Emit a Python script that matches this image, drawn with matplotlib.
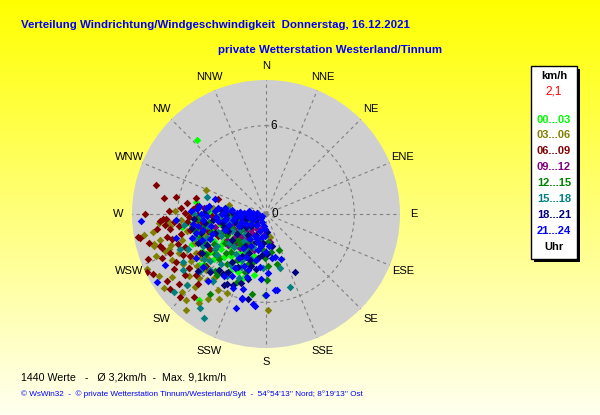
import numpy as np
import matplotlib.pyplot as plt
from matplotlib import font_manager
from matplotlib.patches import Rectangle

# compass + scale
directions = ['N', 'NNE', 'NE', 'ENE', 'E', 'ESE', 'SE', 'SSE',
              'S', 'SSW', 'SW', 'WSW', 'W', 'WNW', 'NW', 'NNW']
max_speed = 9.1
ring_speed = 6

hour_labels = ['00...03', '03...06', '06...09', '09...12',
               '12...15', '15...18', '18...21', '21...24']
hour_colors = ['#00FF00', '#808000', '#800000', '#800080',
               '#008000', '#008080', '#000080', '#0000FF']

# (wind direction deg, speed km/h), per 3 hour block
pts_00_03 = [(317, 6.9), (280, 4.8), (261, 5.8), (218, 7.4), (233, 5.7), (231, 5.4), (191, 4.2),
             (265, 3.5), (258, 3.2), (252, 2.9), (248, 3.6), (243, 4.0), (238, 3.4), (234, 2.8),
             (228, 3.3), (224, 4.1), (220, 3.7), (246, 2.2), (240, 1.9), (255, 1.6), (262, 2.4),
             (250, 4.4), (236, 4.6), (226, 2.5), (214, 3.0), (208, 3.6), (270, 2.8), (230, 1.6),
             (244, 1.2), (257, 4.2), (212, 4.6), (203, 2.6), (175, 1.4),
             (272, 3.8), (267, 1.9), (259, 2.6), (253, 3.7), (249, 1.0), (241, 3.0), (237, 2.3),
             (232, 3.9), (227, 1.2), (222, 2.9), (217, 2.2), (210, 2.6), (206, 4.4), (245, 4.8),
             (262, 4.5), (236, 3.6),
             (268, 4.6), (256, 5.0), (248, 5.4), (240, 5.0), (229, 4.7), (221, 5.0), (215, 4.0),
             (252, 4.8), (264, 5.3), (233, 4.3), (196, 3.0), (200, 4.6), (207, 3.0), (212, 1.8)]
pts_03_06 = [(292, 4.4), (272, 6.2), (263, 6.6), (260, 8.4), (266, 5.8), (255, 7.9), (250, 7.3),
             (250, 7.0), (240, 8.4), (236, 7.7), (227, 7.8), (223, 8.0), (220, 8.5), (214, 7.0),
             (212, 6.1), (206, 6.0), (179, 6.5), (170, 1.6), (241, 5.4), (235, 6.4), (246, 6.5),
             (253, 6.0), (258, 4.6), (248, 5.2), (244, 7.1), (238, 6.0), (231, 6.7), (226, 6.3),
             (219, 5.6), (256, 7.4), (262, 4.9), (268, 4.3), (252, 3.9), (242, 4.5), (232, 5.0),
             (229, 4.3), (276, 3.6), (283, 2.6), (254, 7.9), (278, 1.1),
             (258, 5.5), (265, 7.3), (261, 7.8), (249, 8.0), (245, 8.9), (234, 8.6), (228, 7.2),
             (224, 6.9), (217, 7.6), (239, 6.6), (250, 4.3), (264, 3.1), (233, 5.9), (246, 5.9),
             (270, 5.2), (261, 5.1), (255, 4.2), (247, 4.6), (240, 5.9), (236, 5.3), (227, 5.6),
             (222, 6.0), (217, 5.0), (209, 6.6), (266, 6.7), (252, 6.8)]
pts_06_09 = [(285, 7.7), (278, 5.4), (274, 5.0), (274, 5.8), (269, 4.6), (267, 7.0), (267, 6.8),
             (266, 7.2), (264, 6.9), (259, 8.7), (260, 8.8), (258, 5.3), (264, 5.4), (253, 7.5),
             (249, 8.6), (244, 9.0), (242, 8.7), (232, 8.3), (231, 7.6), (221, 7.5), (229, 6.3),
             (235, 6.4), (242, 6.9), (244, 6.3), (248, 5.9), (255, 6.6), (262, 6.0), (271, 5.5),
             (281, 6.2), (276, 4.2), (268, 3.7), (260, 3.2), (254, 4.1), (246, 4.8), (239, 5.2),
             (270, 2.3), (262, 1.8), (250, 2.6), (288, 3.4), (270, 8.2), (257, 6.9), (252, 7.4),
             (272, 6.6), (279, 7.0), (283, 4.9), (265, 6.3), (262, 7.5), (256, 8.2), (251, 6.3),
             (247, 7.7), (239, 7.3), (236, 8.1), (226, 8.1), (233, 6.9), (259, 4.5), (266, 4.7),
             (245, 3.6), (255, 2.9),
             (277, 4.7), (273, 4.1), (268, 5.2), (263, 4.4), (257, 5.9), (252, 5.1), (241, 5.9),
             (238, 4.5), (229, 5.4), (224, 6.6), (261, 6.6), (248, 7.0)]
pts_09_12 = [(250, 0.8), (245, 1.2), (255, 1.0), (240, 1.6), (235, 1.1), (260, 0.6), (230, 1.8),
             (225, 1.4), (248, 2.0), (238, 2.3), (220, 2.0), (215, 1.6), (210, 1.2), (205, 2.2),
             (258, 1.5), (265, 1.1), (243, 0.5), (228, 0.9), (233, 2.6), (252, 2.5), (218, 2.9),
             (200, 1.7), (195, 1.0), (270, 0.8), (198, 2.6), (186, 1.4), (175, 1.9), (172, 1.9),
             (262, 2.0), (256, 2.8), (244, 2.9), (236, 3.2), (228, 2.3), (222, 1.0), (213, 2.5),
             (252, 1.4), (240, 1.0), (247, 2.4), (267, 1.6),
             (256, 3.6), (248, 3.2), (242, 2.1), (231, 3.3), (226, 2.8), (217, 2.1)]
pts_12_15 = [(190, 5.5), (179, 4.5), (168, 3.5), (181, 3.0), (215, 6.6), (186, 2.4), (172, 2.6),
             (195, 3.4), (200, 4.2), (205, 3.0), (210, 2.2), (220, 2.7), (226, 3.8), (232, 4.4),
             (237, 2.0), (242, 3.0), (248, 2.5), (255, 3.0), (262, 3.9), (268, 3.2), (273, 4.0),
             (214, 4.8), (222, 5.2), (230, 3.0), (245, 1.4), (258, 2.0), (193, 1.8), (176, 1.9),
             (160, 2.6), (203, 5.0), (266, 1.5), (181, 5.5), (178, 3.5),
             (271, 2.4), (264, 2.3), (259, 4.3), (252, 3.9), (247, 3.3), (240, 4.1), (234, 3.4),
             (228, 2.6), (223, 3.5), (218, 4.3), (212, 3.7), (207, 2.6), (240, 1.2), (250, 1.2),
             (266, 4.6), (256, 4.9), (244, 4.6), (236, 4.9), (226, 4.4), (219, 5.3), (209, 4.2),
             (200, 3.6), (230, 5.5), (250, 4.8)]
pts_15_18 = [(286, 4.2), (274, 4.0), (246, 5.8), (228, 7.2), (230, 8.2), (215, 7.8), (211, 8.2),
             (162, 5.2), (166, 3.8), (265, 3.3), (258, 2.6), (250, 3.5), (243, 2.6), (237, 4.0),
             (232, 3.2), (226, 2.0), (222, 4.6), (217, 3.4), (210, 2.8), (205, 4.0), (198, 3.2),
             (255, 4.6), (261, 1.4), (247, 1.5), (234, 5.2), (240, 6.5), (269, 2.0), (277, 2.6),
             (229, 5.9), (236, 6.8), (183, 3.7),
             (273, 3.5), (268, 4.4), (263, 2.5), (253, 2.0), (248, 4.3), (244, 3.4), (240, 2.0),
             (235, 1.5), (230, 4.3), (224, 3.1), (219, 2.4), (214, 4.2), (208, 3.5), (201, 2.4),
             (270, 4.9), (258, 4.0), (251, 5.1), (243, 4.8), (236, 4.2), (230, 5.0), (225, 5.4),
             (218, 5.8), (212, 5.0), (203, 4.7), (262, 5.6), (248, 6.3)]
pts_18_21 = [(153, 4.4), (205, 5.3), (211, 5.6), (250, 1.0), (245, 1.9), (240, 0.8), (235, 2.4),
             (230, 1.3), (220, 1.9), (215, 4.0), (210, 3.3), (200, 2.0), (195, 4.6),
             (190, 3.0), (185, 2.0), (255, 2.2), (260, 3.0), (265, 2.0), (270, 1.4), (275, 3.1),
             (262, 4.2), (250, 3.7), (242, 4.5), (220, 5.0), (230, 6.0), (213, 2.6),
             (178, 1.2), (170, 2.2), (248, 0.5), (192, 5.9), (213, 4.7), (178, 2.7),
             (273, 2.3), (268, 2.7), (263, 3.6), (257, 1.4), (253, 3.0), (246, 2.8),
             (237, 1.6), (233, 2.9), (208, 4.1), (203, 2.9), (196, 3.7), (260, 0.9),
             (271, 4.2), (266, 4.9), (259, 5.1), (254, 4.6), (247, 5.0), (239, 5.1),
             (224, 5.5), (216, 5.0), (209, 5.4), (200, 5.0), (190, 3.8), (199, 3.3), (206, 1.6),
             (185, 2.8)]
pts_21_24 = [(267, 8.5), (255, 6.3), (243, 7.7), (238, 8.7), (274, 4.7), (277, 3.3), (286, 3.6),
             (221, 6.0), (198, 6.7), (188, 6.2), (196, 6.0), (197, 4.5), (180, 5.5), (173, 5.2),
             (168, 3.0), (175, 2.2), (182, 1.5), (190, 0.8), (200, 1.2), (210, 0.6), (220, 1.0),
             (230, 0.4), (240, 0.3), (255, 0.4), (265, 0.5), (275, 0.6), (272, 1.5), (276, 2.3),
             (270, 3.0), (268, 4.0), (264, 2.7), (258, 3.8), (252, 1.8), (249, 3.0), (246, 4.2),
             (213, 2.0), (207, 1.7), (203, 3.8), (193, 2.5), (186, 3.6), (178, 4.0), (262, 5.0),
             (238, 5.6), (248, 0.9), (236, 1.2), (260, 1.2), (271, 2.0), (281, 1.2),
             (204, 5.5), (197, 5.3), (196, 5.9), (187, 6.3), (172, 5.2), (162, 3.2), (172, 3.0),
             (278, 3.9), (274, 2.7), (273, 3.5), (270, 4.4), (266, 3.4), (262, 3.3), (259, 2.3),
             (256, 4.4), (254, 2.6), (250, 3.9), (243, 1.5), (214, 2.8), (211, 3.5),
             (206, 2.4), (268, 1.0), (263, 1.7), (257, 1.0), (245, 2.0), (255, 4.9), (274, 1.2),
             (277, 4.6), (272, 5.1), (265, 4.3), (260, 4.7), (252, 5.3), (248, 4.7),
             (230, 5.6), (214, 5.1), (209, 4.8), (266, 6.1), (192, 3.2), (198, 4.0), (205, 3.2),
             (210, 4.2), (201, 1.8), (188, 2.2),
             (275, 1.8), (279, 2.8), (276, 4.1), (273, 0.9), (269, 1.7), (265, 2.1), (261, 2.8),
             (190, 1.6), (185, 1.0), (195, 2.0), (180, 2.6), (184, 4.4)]
all_pts = [pts_00_03, pts_03_06, pts_06_09, pts_09_12, pts_12_15, pts_15_18, pts_18_21, pts_21_24]

plt.rcParams['font.family'] = ['Liberation Sans', 'DejaVu Sans']

# narrow bold font for the blue headings if it is there
try:
    font_manager.findfont(font_manager.FontProperties(family='Liberation Sans Narrow', weight='bold'),
                          fallback_to_default=False)
    head_family = ['Liberation Sans Narrow', 'Liberation Sans']
except Exception:
    head_family = ['Liberation Sans', 'DejaVu Sans']

fig = plt.figure(figsize=(6, 4.15), dpi=100)

# yellow -> pale background gradient
bg = fig.add_axes([0, 0, 1, 1], zorder=-10)
grad = np.linspace(0, 1, 256)
img = np.zeros((256, 1, 3))
img[:, 0, 0] = 1
img[:, 0, 1] = 1
img[:, 0, 2] = grad * 0.94
bg.imshow(img, aspect='auto', extent=[0, 1, 0, 1])
bg.axis('off')

# polar plot
ax = fig.add_axes([132/600, (415-214-134)/415, 268/600, 268/415], projection='polar')
ax.set_theta_zero_location('N')
ax.set_theta_direction(-1)
ax.set_ylim(0, max_speed)
ax.set_facecolor('#CFCFCF')
ax.spines['polar'].set_visible(False)
ax.set_xticks(np.deg2rad(np.arange(0, 360, 22.5)))
ax.set_xticklabels([])
ax.set_yticks([ring_speed])
ax.set_yticklabels([])
ax.grid(True, color='#808080', linestyle=(0, (3, 3)), linewidth=0.8)
ax.tick_params(length=0)

for i, name in enumerate(directions):
    ax.text(np.deg2rad(i*22.5), 10.05, name, ha='center', va='center', fontsize=8, clip_on=False)
ax.annotate('0', xy=(0, 0), xytext=(4, 0), textcoords='offset points', va='center', fontsize=8.5)
ax.annotate('6', xy=(0, ring_speed), xytext=(3, 0), textcoords='offset points', va='center', fontsize=8.5)

for pts, col in zip(all_pts, hour_colors):
    d = np.deg2rad([p[0] for p in pts])
    v = [p[1] for p in pts]
    ax.scatter(d, v, marker='D', s=15, color=col, linewidths=0, zorder=3)

# titles, sized so line one spans the same width as in the original
t1 = fig.text(21/600, 1-25/415, 'Verteilung Windrichtung/Windgeschwindigkeit  Donnerstag, 16.12.2021',
              color='#0000FF', fontsize=9, fontweight='bold', family=head_family, va='center')
t2 = fig.text(218/600, 1-50/415, 'private Wetterstation Westerland/Tinnum',
              color='#0000FF', fontsize=9, fontweight='bold', family=head_family, va='center')
r = fig.canvas.get_renderer()
w = t1.get_window_extent(r).width
size = 9 * 387 / w
t1.set_fontsize(size)
t2.set_fontsize(size)

# legend box with shadow
fig.patches.append(Rectangle((534/600, 1-262/415), 46/600, 193/415, transform=fig.transFigure,
                             facecolor='black', edgecolor='none'))
fig.patches.append(Rectangle((531/600, 1-259/415), 46/600, 193/415, transform=fig.transFigure,
                             facecolor='white', edgecolor='black', linewidth=1))
fig.text(554/600, 1-76/415, 'km/h', ha='center', va='center', fontsize=8, fontweight='bold')
fig.text(554/600, 1-92/415, '2,1', ha='center', va='center', fontsize=8.5, color='#FF0000')
leg_y = [120, 135, 151, 167, 183, 199, 215, 231]
for lab, col, yy in zip(hour_labels, hour_colors, leg_y):
    fig.text(554/600, 1-yy/415, lab, ha='center', va='center', fontsize=8, fontweight='bold', color=col)
fig.text(554/600, 1-247/415, 'Uhr', ha='center', va='center', fontsize=8, fontweight='bold')

# footer
fig.text(21/600, 1-377/415, '1440 Werte   -   Ø 3,2km/h  -  Max. 9,1km/h', fontsize=7.7, va='center')
fig.text(21/600, 1-394/415,
         "© WsWin32  -  © private Wetterstation Tinnum/Westerland/Sylt  -  54°54'13'' Nord; 8°19'13'' Ost",
         fontsize=5.9, color='#0000FF', va='center')

fig.savefig('out.png', dpi=100)
